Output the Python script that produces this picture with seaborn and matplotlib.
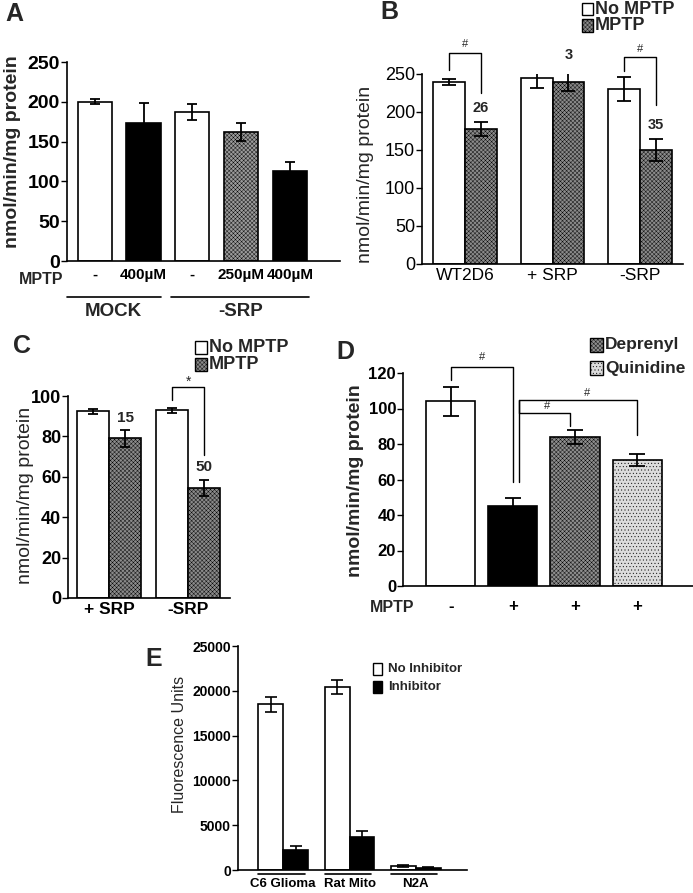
import numpy as np
import pandas as pd
import matplotlib
matplotlib.use("Agg")
import matplotlib.pyplot as plt
import seaborn as sns
from matplotlib.patches import Rectangle

sns.set_theme(style="ticks")
plt.rcParams["font.family"] = ["Liberation Sans", "DejaVu Sans"]
plt.rcParams["hatch.linewidth"] = 0.3

# ---- data ----
# A
a_group = ["MOCK", "MOCK", "-SRP", "-SRP", "-SRP"]
a_dose = ["-", "400µM", "-", "250µM", "400µM"]
a_means = [200, 173, 187, 162, 113]
a_err = [3, 25, 10, 11, 12]

# B
b_cells = ["WT2D6", "+ SRP", "-SRP"]
b_treat = ["No MPTP", "MPTP"]
b_no = [239, 245, 230]
b_no_err = [4, 14, 16]
b_mptp = [178, 239, 150]
b_mptp_err = [9, 12, 15]
b_pct = ["26", "3", "35"]

# C
c_cells = ["+ SRP", "-SRP"]
c_no = [92.5, 93]
c_no_err = [1.3, 1.3]
c_mptp = [79, 54.5]
c_mptp_err = [4.3, 4]
c_pct = ["15", "50"]

# D
d_cond = ["Control", "MPTP", "Deprenyl", "Quinidine"]
d_mptp = ["-", "+", "+", "+"]
d_means = [104, 45, 84, 71]
d_err = [8, 4.5, 4, 3.5]

# E
e_src = ["C6 Glioma", "Rat Mito", "N2A"]
e_treat = ["No Inhibitor", "Inhibitor"]
e_none = [18500, 20400, 450]
e_none_err = [850, 750, 100]
e_inh = [2200, 3650, 260]
e_inh_err = [450, 650, 80]

GRAY = "#8a8a8a"
TEX = "xxxxxxxx"
W, H = 693, 893
fig = plt.figure(figsize=(W / 100, H / 100), dpi=100)


def px_axes(l, t, r, b):
    return fig.add_axes([l / W, 1 - b / H, (r - l) / W, (b - t) / H])


def ftext(x, y, s, **kw):
    fig.text(x / W, 1 - y / H, s, **kw)


def key(x, y, w, h, fc, hatch, label, fs, weight="bold", gap=2):
    fig.add_artist(Rectangle((x / W, 1 - (y + h) / H), w / W, h / H, transform=fig.transFigure,
                             facecolor=fc, edgecolor="black", lw=1, hatch=hatch))
    ftext(x + w + gap, y + h / 2, label, fontsize=fs, fontweight=weight, va="center", ha="left")


def style(ax, fs, weight, xfs=None, xweight=None, xpad=3):
    sns.despine(ax=ax)
    for s in ["left", "bottom"]:
        ax.spines[s].set_linewidth(1.2)
        ax.spines[s].set_color("black")
    ax.tick_params(axis="y", length=4, width=1, labelsize=fs, pad=1, colors="black")
    ax.tick_params(axis="x", length=0, labelsize=xfs or fs, pad=xpad, colors="black")
    for t in ax.get_yticklabels():
        t.set_fontweight(weight)
    for t in ax.get_xticklabels():
        t.set_fontweight(xweight or weight)
    ax.set_xlabel("")
    ax.set_ylabel("")


def centers(ax):
    return [p.get_x() + p.get_width() / 2 for p in ax.patches]


def bracket(ax, x0, x1, ytop, y0, y1):
    ax.plot([x0, x0, x1, x1], [y0, ytop, ytop, y1], color="black", lw=1, clip_on=False)


# ---- Panel A ----
ax = px_axes(67, 62, 340, 261)
a_ids = [g + " " + d for g, d in zip(a_group, a_dose)]
a_cols = ["white", "black", "white", "#9a9a9a", "black"]
sns.barplot(x=a_ids, y=a_means, hue=a_ids, palette=a_cols, legend=False, width=0.7,
            edgecolor="black", linewidth=1.2, errorbar=None, ax=ax)
ax.patches[3].set_hatch(TEX)
ax.errorbar(centers(ax), a_means, yerr=a_err, fmt="none", ecolor="black", elinewidth=1.3,
            capsize=3.6, capthick=1.3)
ax.set_ylim(0, 250)
ax.set_xlim(-0.57, 5.03)
ax.set_yticks(range(0, 251, 50))
ax.set_xticks(range(5))
ax.set_xticklabels(a_dose)
style(ax, 14, "bold", xfs=11, xpad=5)
xs = centers(ax)
w2 = ax.patches[0].get_width() / 2
tr = ax.get_xaxis_transform()
for grp, x0, x1 in [("MOCK", -0.57, xs[1] + w2), ("-SRP", xs[2] - w2 - 0.08, xs[4] + w2 + 0.05)]:
    ax.plot([x0, x1], [-0.18, -0.18], color="black", lw=1.2, transform=tr, clip_on=False)
    ax.text((x0 + x1) / 2, -0.255, grp, transform=tr, ha="center", va="center",
            fontsize=13.5, fontweight="bold")
ftext(41, 279, "MPTP", fontsize=11.5, fontweight="bold", ha="center", va="center")
ftext(14, 14, "A", fontsize=18, fontweight="bold", ha="center", va="center")
ftext(13, 152, "nmol/min/mg protein", fontsize=14, fontweight="bold", rotation=90,
      ha="center", va="center")

# ---- Panel B ----
ax = px_axes(422, 74, 683, 264)
df_b = pd.DataFrame({"cell": b_cells * 2, "treat": [b_treat[0]] * 3 + [b_treat[1]] * 3,
                     "val": b_no + b_mptp})
sns.barplot(data=df_b, x="cell", y="val", hue="treat", hue_order=b_treat,
            palette={"No MPTP": "white", "MPTP": GRAY}, legend=False, width=0.73,
            edgecolor="black", linewidth=1.2, errorbar=None, ax=ax)
for p in ax.patches[3:]:
    p.set_hatch(TEX)
xs = centers(ax)
ax.errorbar(xs, b_no + b_mptp, yerr=b_no_err + b_mptp_err, fmt="none", ecolor="black",
            elinewidth=1.3, capsize=4.7, capthick=1.3)
ax.set_ylim(0, 250)
ax.set_xlim(-0.49, 2.49)
ax.set_yticks(range(0, 251, 50))
style(ax, 13, "normal", xfs=12.5)
bracket(ax, xs[0], xs[3], 278, 255, 225)
ax.text((xs[0] + xs[3]) / 2, 289, "#", ha="center", va="center", fontsize=8)
bracket(ax, xs[2], xs[5], 272, 254, 209)
ax.text((xs[2] + xs[5]) / 2, 283, "#", ha="center", va="center", fontsize=8)
for i, (lab, yy) in enumerate(zip(b_pct, [205, 275, 183])):
    ax.text(xs[3 + i], yy, lab, ha="center", va="center", fontsize=10.5, fontweight="bold")
key(582, 3, 11, 12, "white", None, "No MPTP", 13)
key(582, 19, 11, 13, GRAY, TEX, "MPTP", 13)
ftext(389, 12, "B", fontsize=18, fontweight="bold", ha="center", va="center")
ftext(365, 174, "nmol/min/mg protein", fontsize=14, rotation=90, ha="center", va="center")

# ---- Panel C ----
ax = px_axes(68, 396, 230, 598)
df_c = pd.DataFrame({"cell": c_cells * 2, "treat": [b_treat[0]] * 2 + [b_treat[1]] * 2,
                     "val": c_no + c_mptp})
sns.barplot(data=df_c, x="cell", y="val", hue="treat", hue_order=b_treat,
            palette={"No MPTP": "white", "MPTP": GRAY}, legend=False, width=0.81,
            edgecolor="black", linewidth=1.2, errorbar=None, ax=ax)
for p in ax.patches[2:]:
    p.set_hatch(TEX)
xs = centers(ax)
ax.errorbar(xs, c_no + c_mptp, yerr=c_no_err + c_mptp_err, fmt="none", ecolor="black",
            elinewidth=1.3, capsize=3.4, capthick=1.3)
ax.set_ylim(0, 100)
ax.set_xlim(-0.52, 1.53)
ax.set_yticks(range(0, 101, 20))
style(ax, 13, "bold", xfs=12.5)
bracket(ax, xs[1], xs[3], 104.5, 98, 71)
ax.text((xs[1] + xs[3]) / 2, 107, "*", ha="center", va="center", fontsize=10)
for i, (lab, yy) in enumerate(zip(c_pct, [89, 65])):
    ax.text(xs[2 + i], yy, lab, ha="center", va="center", fontsize=11, fontweight="bold")
key(195, 341, 12, 13, "white", None, "No MPTP", 13)
key(195, 358, 12, 13, GRAY, TEX, "MPTP", 13)
ftext(22, 346, "C", fontsize=18, fontweight="bold", ha="center", va="center")
ftext(26, 495, "nmol/min/mg protein", fontsize=14, rotation=90, ha="center", va="center")

# ---- Panel D ----
ax = px_axes(403, 373, 693, 586)
d_cols = ["white", "black", "#8e8e8e", "#dcdcdc"]
sns.barplot(x=d_cond, y=d_means, hue=d_cond, palette=d_cols, legend=False, width=0.79,
            edgecolor="black", linewidth=1.2, errorbar=None, ax=ax)
ax.patches[2].set_hatch(TEX)
ax.patches[3].set_hatch(".....")
xs = centers(ax)
ax.errorbar(xs, d_means, yerr=d_err, fmt="none", ecolor="black", elinewidth=1.3,
            capsize=5.5, capthick=1.3)
ax.set_ylim(0, 120)
ax.set_xlim(-0.77, 3.9)
ax.set_yticks(range(0, 121, 20))
ax.set_xticks(range(4))
ax.set_xticklabels(d_mptp)
style(ax, 12, "bold", xfs=12, xpad=9)
bracket(ax, xs[0], xs[1], 123.4, 116, 58.6)
ax.text((xs[0] + xs[1]) / 2, 129, "#", ha="center", va="center", fontsize=8)
bracket(ax, xs[1] + 0.1, xs[3], 104.8, 58.6, 85)
ax.text(2.2, 108.5, "#", ha="center", va="center", fontsize=8)
bracket(ax, xs[1] + 0.1, xs[2] - 0.08, 97.5, 104.8, 90)
ax.text(1.55, 101.5, "#", ha="center", va="center", fontsize=8)
key(590, 338, 13, 14, "#8e8e8e", TEX, "Deprenyl", 12.5)
key(590, 361, 13, 14, "#dcdcdc", ".....", "Quinidine", 12.5)
ftext(392, 608, "MPTP", fontsize=11.5, fontweight="bold", ha="center", va="center")
ftext(345, 352, "D", fontsize=18, fontweight="bold", ha="center", va="center")
ftext(356, 481, "nmol/min/mg protein", fontsize=14, fontweight="bold", rotation=90,
      ha="center", va="center")

# ---- Panel E ----
ax = px_axes(238, 646, 467, 870)
df_e = pd.DataFrame({"src": e_src * 2, "treat": [e_treat[0]] * 3 + [e_treat[1]] * 3,
                     "val": e_none + e_inh})
sns.barplot(data=df_e, x="src", y="val", hue="treat", hue_order=e_treat,
            palette={"No Inhibitor": "white", "Inhibitor": "black"}, legend=False, width=0.75,
            edgecolor="black", linewidth=1.2, errorbar=None, ax=ax)
xs = centers(ax)
ax.errorbar(xs, e_none + e_inh, yerr=e_none_err + e_inh_err, fmt="none", ecolor="black",
            elinewidth=1.2, capsize=4.5, capthick=1.2)
ax.set_ylim(0, 25000)
ax.set_xlim(-0.68, 2.77)
ax.set_yticks(range(0, 25001, 5000))
style(ax, 10, "bold", xfs=9.5, xpad=6)
tr = ax.get_xaxis_transform()
bw = ax.patches[0].get_width()
for i in range(3):
    x0, x1 = xs[i] - bw / 2, xs[3 + i] + bw / 2
    ax.plot([x0, x1 - 0.05], [-0.02, -0.02], color="black", lw=1.2, transform=tr, clip_on=False)
key(373, 663, 9, 12, "white", None, "No Inhibitor", 9.5, gap=6)
key(373, 681, 9, 12, "black", None, "Inhibitor", 9.5, gap=6)
ftext(154, 659, "E", fontsize=18, fontweight="bold", ha="center", va="center")
ftext(180, 744, "Fluorescence Units", fontsize=11.5, rotation=90, ha="center", va="center")

fig.savefig("out.png", dpi=100)
